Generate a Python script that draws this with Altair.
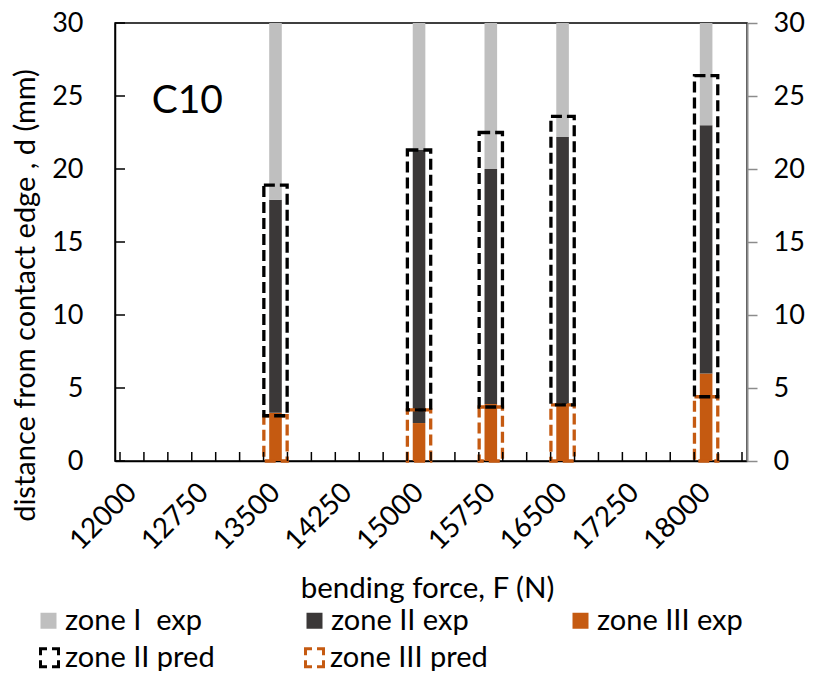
import altair as alt
import pandas as pd

# ---- data ----
force = [13500, 15000, 15750, 16500, 18000]
zone3_exp = [3.3, 2.6, 3.9, 3.9, 6.0]
zone2_exp_top = [17.9, 21.3, 20.0, 22.2, 23.0]
zone1_exp_top = [30, 30, 30, 30, 30]
zone3_pred = [3.1, 3.5, 3.7, 3.85, 4.4]
zone2_pred_top = [18.9, 21.3, 22.5, 23.6, 26.4]

categories = list(range(12000, 18251, 250))          # category slots on the x axis
x_labels = [12000, 12750, 13500, 14250, 15000, 15750, 16500, 17250, 18000]
y_ticks = [0, 5, 10, 15, 20, 25, 30]

exp_names = ["zone I\u00a0 exp", "zone II exp", "zone III exp"]
exp_colors = ["#BFBFBF", "#3B3838", "#C55A11"]
pred_names = ["zone II pred", "zone III pred"]
pred_colors = ["#000000", "#C55A11"]

# ---- tables ----
exp_rows = []
for i, f in enumerate(force):
    exp_rows.append({"force": f, "zone": exp_names[2], "lo": 0, "hi": zone3_exp[i]})
    exp_rows.append({"force": f, "zone": exp_names[1], "lo": zone3_exp[i], "hi": zone2_exp_top[i]})
    exp_rows.append({"force": f, "zone": exp_names[0], "lo": zone2_exp_top[i], "hi": zone1_exp_top[i]})
exp_df = pd.DataFrame(exp_rows)

pred_rows = []
for i, f in enumerate(force):
    pred_rows.append({"force": f, "zone": pred_names[1], "lo": 0, "hi": zone3_pred[i]})
for i, f in enumerate(force):
    pred_rows.append({"force": f, "zone": pred_names[0], "lo": zone3_pred[i], "hi": zone2_pred_top[i]})
pred_df = pd.DataFrame(pred_rows)

half = (categories[1] - categories[0]) / 2
bounds = [c - half for c in categories] + [categories[-1] + half]
xtick_df = pd.DataFrame({"b": bounds})
ytick_df = pd.DataFrame({"v": y_ticks})

W, H = 632, 438
FONT = "Lato"
FS = 27
LFS = 29

xscale = alt.Scale(domain=[bounds[0], bounds[-1]], nice=False, zero=False)
yscale = alt.Scale(domain=[0, 30], nice=False)

x_axis = alt.Axis(
    values=x_labels, format="d", ticks=False, tickSize=0, grid=False,
    labelAngle=-45, labelAlign="right", labelBaseline="middle", labelPadding=27,
    labelFontSize=28, labelColor="black", labelOverlap=False, labelFlush=False,
    domainColor="black", domainWidth=1.5,
    title="bending force, F (N)", titleFontSize=29.5, titleFontWeight="normal",
    titleColor="black", titleX=W / 2 - 4, titleY=136, titleBaseline="alphabetic",
)
left_axis = alt.Axis(
    values=y_ticks, ticks=False, tickSize=0, grid=False,
    labelPadding=32, labelFontSize=FS, labelColor="black",
    domainColor="black", domainWidth=1.5,
    title="distance from contact edge , d (mm)", titleFontSize=29,
    titleFontWeight="normal", titleColor="black",
    titleX=-80.5, titleY=272, titleBaseline="alphabetic", titleAngle=-90,
)
right_axis = alt.Axis(
    orient="right", values=y_ticks, grid=False, title=None,
    tickSize=10, tickColor="#8C8C8C", tickWidth=1.5,
    labelPadding=16, labelFontSize=FS, labelColor="black",
    domainColor="#8C8C8C", domainWidth=2,
)

exp_layer = alt.Chart(exp_df).mark_bar(width=12.6).encode(
    x=alt.X("force:Q", scale=xscale, axis=x_axis),
    y=alt.Y("lo:Q", scale=yscale, axis=left_axis),
    y2="hi:Q",
    color=alt.Color(
        "zone:N",
        scale=alt.Scale(domain=exp_names, range=exp_colors),
        legend=alt.Legend(
            title=None, orient="none", legendX=-81, legendY=583,
            direction="horizontal", columns=3, gridAlign="all",
            columnPadding=89, rowPadding=0, padding=0,
            symbolType="square", symbolSize=256, symbolStrokeWidth=0,
            labelFontSize=LFS, labelOffset=2, labelLimit=400, labelColor="black",
        ),
    ),
)

pred_layer = alt.Chart(pred_df).mark_bar(
    width=23.3, filled=False, strokeWidth=3.3, strokeDash=[11, 5]
).encode(
    x=alt.X("force:Q", scale=xscale, axis=None),
    y=alt.Y("lo:Q", scale=yscale, axis=right_axis),
    y2="hi:Q",
    stroke=alt.Stroke(
        "zone:N",
        scale=alt.Scale(domain=pred_names, range=pred_colors),
        legend=alt.Legend(
            title=None, orient="none", legendX=-80, legendY=620,
            direction="horizontal", columns=3, gridAlign="all",
            columnPadding=76, rowPadding=0, padding=0,
            symbolType="square", symbolSize=324, symbolStrokeWidth=3,
            symbolDash=[13, 5], symbolDashOffset=6.5, symbolFillColor="white",
            labelFontSize=LFS, labelOffset=1, labelLimit=400, labelColor="black",
        ),
    ),
)

xticks_layer = alt.Chart(xtick_df).mark_rule(color="black", strokeWidth=1.5).encode(
    x=alt.X("b:Q", scale=xscale, axis=None),
    y=alt.value(H),
    y2=alt.value(H - 9),
)

yticks_layer = alt.Chart(ytick_df).mark_rule(color="black", strokeWidth=1.5).encode(
    y=alt.Y("v:Q", scale=yscale, axis=None),
    x=alt.value(0),
    x2=alt.value(10),
)

label_layer = alt.Chart(pd.DataFrame({"t": ["C10"]})).mark_text(
    align="left", baseline="alphabetic", fontSize=39, color="black"
).encode(
    x=alt.value(36.7),
    y=alt.value(90.3),
    text="t:N",
)

chart = (
    alt.layer(exp_layer, pred_layer, xticks_layer, yticks_layer, label_layer)
    .resolve_scale(color="independent", stroke="independent")
    .resolve_axis(x="independent", y="independent")
    .properties(
        width=W, height=H,
        autosize=alt.AutoSizeParams(type="none"),
        padding={"left": 107, "top": 15, "right": 58, "bottom": 210},
    )
    .configure(font=FONT)
    .configure_view(stroke="black", strokeWidth=1.5)
)

chart.save("out.html", embed_options={"renderer": "svg", "actions": False})
